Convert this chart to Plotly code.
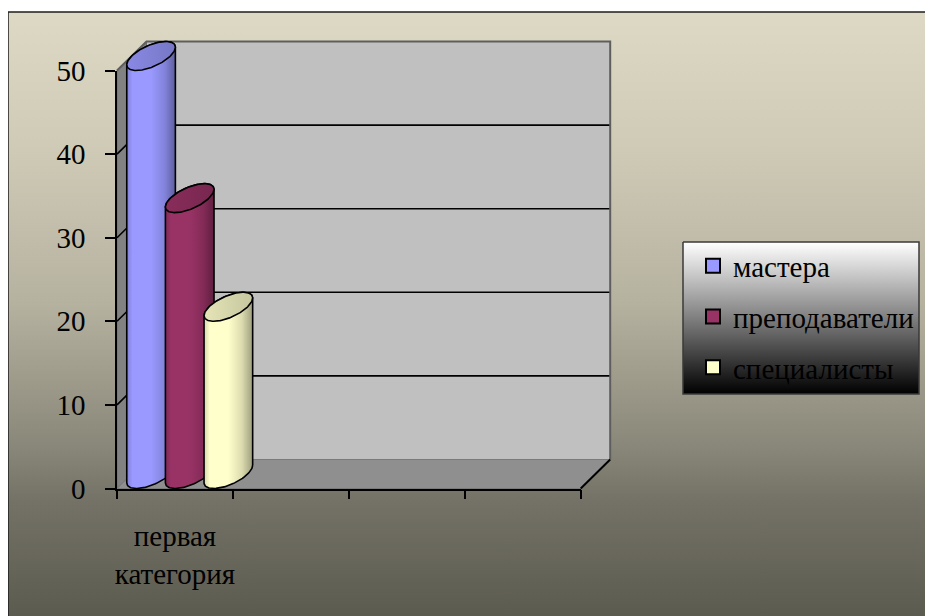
import numpy as np
import plotly.graph_objects as go

# ---------------- data ----------------
categories = ["первая<br>категория", "", "", ""]
series_names = ["мастера", "преподаватели", "специалисты"]
masters = [50, None, None, None]
teachers = [33, None, None, None]
specialists = [20, None, None, None]
y_ticks = [0, 10, 20, 30, 40, 50]
series_values = [masters, teachers, specialists]
series_colors = ["#9999FF", "#993366", "#FFFFCC"]

# ---------------- geometry (pixel calibration, screen coordinates) ----------------
W, H = 933, 616
PAGE = 8                   # default page margin around the plot div
X0, X4 = 117.0, 580.7      # screen x of category axis start / end (front plane)
Y0, YTOP = 488.5, 70.5     # screen y of value 0 / value max (front plane)
NCAT = len(categories)
YMAX = y_ticks[-1]
KX = (X4 - X0) / NCAT
KY = (Y0 - YTOP) / YMAX
DX = 29.5 / KX             # depth offset in data units
DY = 29.0 / KY
X0f, X4f, Y0f, YTOPf = X0 - PAGE, X4 - PAGE, Y0 - PAGE, YTOP - PAGE


def dx(px):
    return (px - X0) / KX


def dy(py):
    return (Y0 - py) / KY


def shade(hexc, f):
    hexc = hexc.lstrip("#")
    r, g, b = (int(hexc[i:i + 2], 16) for i in (0, 2, 4))
    return "rgb(%d,%d,%d)" % (min(255, r * f), min(255, g * f), min(255, b * f))


fig = go.Figure()

# ---------------- background (chart area gradient) ----------------
BG_SCALE = [[0, "rgb(92,91,80)"], [0.19, "rgb(116,114,102)"], [0.28, "rgb(137,135,121)"],
            [0.52, "rgb(182,178,160)"], [0.77, "rgb(207,202,182)"], [1, "rgb(222,217,197)"]]
fig.add_trace(go.Scatter(
    x=[dx(8), dx(W + 12), dx(W + 12), dx(8), dx(8)],
    y=[dy(12), dy(12), dy(H + 12), dy(H + 12), dy(12)],
    mode="lines", line=dict(width=0), fill="toself",
    fillgradient=dict(type="vertical", start=dy(H), stop=dy(12), colorscale=BG_SCALE),
    showlegend=False, hoverinfo="skip"))
fig.add_trace(go.Scatter(
    x=[dx(8), dx(8), dx(W + 12)], y=[dy(H + 12), dy(12), dy(12)],
    mode="lines", line=dict(color="#1E1E1E", width=1.5),
    showlegend=False, hoverinfo="skip"))

# ---------------- walls and floor ----------------
xmax = NCAT
# back wall
fig.add_trace(go.Scatter(
    x=[DX, xmax + DX, xmax + DX, DX, DX],
    y=[DY, DY, YMAX + DY, YMAX + DY, DY],
    mode="lines", line=dict(width=0), fill="toself", fillcolor="#C0C0C0",
    showlegend=False, hoverinfo="skip"))
# side wall
fig.add_trace(go.Scatter(
    x=[0, DX, DX, 0, 0], y=[0, DY, YMAX + DY, YMAX, 0],
    mode="lines", line=dict(color="#6E6E6E", width=1), fill="toself", fillcolor="#828282",
    showlegend=False, hoverinfo="skip"))
# floor
fig.add_trace(go.Scatter(
    x=[0, xmax, xmax + DX, DX, 0], y=[0, 0, DY, DY, 0],
    mode="lines", line=dict(color="#7A7A7A", width=1), fill="toself", fillcolor="#8F8F8F",
    showlegend=False, hoverinfo="skip"))
# gridlines on the walls
for v in y_ticks[1:-1]:
    fig.add_trace(go.Scatter(
        x=[0, DX, xmax + DX], y=[v, v + DY, v + DY],
        mode="lines", line=dict(color="black", width=1.6),
        showlegend=False, hoverinfo="skip"))
# wall outline (top + right)
fig.add_trace(go.Scatter(
    x=[0, DX, xmax + DX, xmax + DX], y=[YMAX, YMAX + DY, YMAX + DY, DY],
    mode="lines", line=dict(color="#5E5E5E", width=2),
    showlegend=False, hoverinfo="skip"))
# floor right edge
fig.add_trace(go.Scatter(
    x=[xmax, xmax + DX], y=[0, DY],
    mode="lines", line=dict(color="black", width=2),
    showlegend=False, hoverinfo="skip"))

# ---------------- cylinders ----------------
nser = len(series_values)
slot = 1.0 / nser
A = slot / 2.0
Bx, By = 0.5 * DX, 0.5 * DY
t0 = np.arctan2(Bx, A)
half = np.sqrt(A * A + Bx * Bx)

for k, (vals, col) in enumerate(zip(series_values, series_colors)):
    for i, v in enumerate(vals):
        if v is None:
            continue
        cx = i + (k + 0.5) * slot + 0.5 * DX
        yb = 0.5 * DY
        yt = v + 0.5 * DY
        tb = np.linspace(t0, t0 - np.pi, 80)
        tt = np.linspace(t0 + np.pi, t0, 80)
        bxs = cx + A * np.cos(tb) + Bx * np.sin(tb)
        bys = yb + By * np.sin(tb)
        txs = cx + A * np.cos(tt) + Bx * np.sin(tt)
        tys = yt + By * np.sin(tt)
        xs = np.concatenate([bxs, txs, bxs[:1]])
        ys = np.concatenate([bys, tys, bys[:1]])
        fig.add_trace(go.Scatter(
            x=xs, y=ys, mode="lines", line=dict(color="black", width=1.6),
            fill="toself",
            fillgradient=dict(type="horizontal", start=cx - half, stop=cx + half,
                              colorscale=[[0, shade(col, 0.84)], [0.12, shade(col, 1.0)],
                                          [0.5, shade(col, 1.0)], [0.78, shade(col, 0.86)],
                                          [1, shade(col, 0.62)]]),
            showlegend=False, hoverinfo="skip"))
        tc = np.linspace(0, 2 * np.pi, 160)
        fig.add_trace(go.Scatter(
            x=cx + A * np.cos(tc) + Bx * np.sin(tc), y=yt + By * np.sin(tc),
            mode="lines", line=dict(color="black", width=1.6), fill="toself",
            fillgradient=dict(type="horizontal", start=cx - half, stop=cx + half,
                              colorscale=[[0, shade(col, 0.9)], [1, shade(col, 0.78)]]),
            showlegend=False, hoverinfo="skip"))

# ---------------- legend box ----------------
LX0, LX1, LY0, LY1 = 683, 919, 242, 394
fig.add_trace(go.Scatter(
    x=[dx(LX0), dx(LX1), dx(LX1), dx(LX0), dx(LX0)],
    y=[dy(LY0), dy(LY0), dy(LY1), dy(LY1), dy(LY0)],
    mode="lines", line=dict(color="#3A3A3A", width=1.5), fill="toself",
    fillgradient=dict(type="vertical", start=dy(LY1), stop=dy(LY0),
                      colorscale=[[0, "#000000"], [1, "#FFFFFF"]]),
    showlegend=False, hoverinfo="skip"))

for name, col in zip(series_names, series_colors):
    fig.add_trace(go.Scatter(
        x=[None], y=[None], mode="markers", name=name, legendgroup=name,
        marker=dict(symbol="square", size=14, color=col, line=dict(color="black", width=2))))

# ---------------- frame axes (ticks / labels) ----------------
fig.add_trace(go.Scatter(x=[None], y=[None], xaxis="x2", yaxis="y2",
                         showlegend=False, hoverinfo="skip"))

FONT = "Liberation Serif"
fig.update_layout(
    template="none",
    width=W, height=H, autosize=False,
    margin=dict(l=0, r=0, t=0, b=0, pad=0, autoexpand=False),
    paper_bgcolor="white", plot_bgcolor="rgba(0,0,0,0)",
    font=dict(family=FONT, size=29, color="black"),
    showlegend=True,
    legend=dict(x=(693 - PAGE) / W, y=1 - (240.5 - PAGE) / H, xanchor="left", yanchor="top",
                bgcolor="rgba(0,0,0,0)", borderwidth=0, tracegroupgap=10,
                font=dict(family=FONT, size=29, color="black")),
    xaxis=dict(domain=[0, 1], range=[-X0f / KX, (W - X0f) / KX], visible=False,
               fixedrange=True, automargin=False),
    yaxis=dict(domain=[0, 1], range=[-(H - Y0f) / KY, Y0f / KY], visible=False,
               fixedrange=True, automargin=False),
    xaxis2=dict(domain=[X0f / W, X4f / W], range=[0, NCAT], anchor="y2", automargin=False,
                showgrid=False, zeroline=False, showline=True, linecolor="black", linewidth=1.5,
                tickmode="array", tickvals=[i + 0.5 for i in range(NCAT)], ticktext=categories,
                ticks="", ticklabelstandoff=21,
                minor=dict(tickmode="array", tickvals=list(range(NCAT + 1)), ticks="outside",
                           ticklen=9, tickwidth=1.5, tickcolor="black", showgrid=False),
                tickfont=dict(family=FONT, size=29, color="black"), fixedrange=True),
    yaxis2=dict(domain=[1 - Y0f / H, 1 - YTOPf / H], range=[0, YMAX], anchor="x2",
                automargin=False,
                showgrid=False, zeroline=False, showline=True, linecolor="black", linewidth=1.5,
                tickmode="array", tickvals=y_ticks, ticks="outside", ticklen=10, tickwidth=1.5,
                tickcolor="black", ticklabelstandoff=14,
                tickfont=dict(family=FONT, size=29, color="black"), fixedrange=True),
)

fig.write_html("out.html")
